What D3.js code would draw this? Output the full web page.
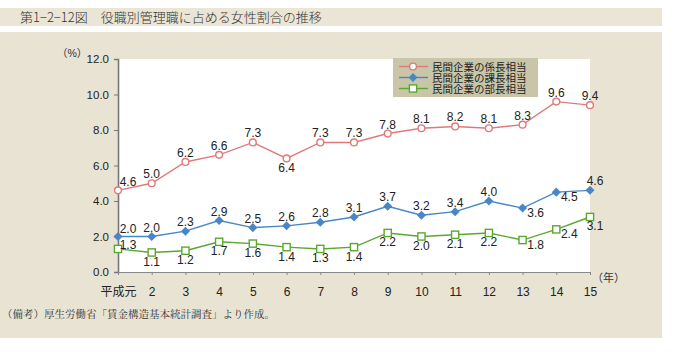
<!DOCTYPE html>
<html><head><meta charset="utf-8">
<script src="https://cdn.jsdelivr.net/npm/d3@7"></script>
<style>body{margin:0;background:#fff;} svg{display:block;}</style>
</head><body>
<script>
const categories = ["平成元","2","3","4","5","6","7","8","9","10","11","12","13","14","15"];
const kakarichou = [4.6,5.0,6.2,6.6,7.3,6.4,7.3,7.3,7.8,8.1,8.2,8.1,8.3,9.6,9.4];
const kachou = [2.0,2.0,2.3,2.9,2.5,2.6,2.8,3.1,3.7,3.2,3.4,4.0,3.6,4.5,4.6];
const buchou = [1.3,1.1,1.2,1.7,1.6,1.4,1.3,1.4,2.2,2.0,2.1,2.2,1.8,2.4,3.1];
const yTicks = [0,2,4,6,8,10,12];
const seriesNames = ["民間企業の係長相当","民間企業の課長相当","民間企業の部長相当"];
// label placement codes
const kakariPos = ["ar","a","a","a","a","b","a","a","a","a","a","a","a","a","a"];
const kachouPos = ["ar","a","a","a","a","a","a","a","a","a","a","a","br","br","aR"];
const buchouPos = ["r","b","b","b","b","b","b","b","b","b","b","b","br","br","bR"];

const W=677,H=355;
const svg=d3.select("body").append("svg").attr("width",W).attr("height",H);
const bg="#e9e3d3";
svg.append("rect").attr("x",0).attr("y",8).attr("width",662).attr("height",18).attr("fill","#ebe5d5");
svg.append("text").attr("x",20).attr("y",22).attr("font-family","Noto Sans CJK JP").attr("font-weight",300).attr("font-size",13).attr("fill","#333")
  .text("第1−2−12図　役職別管理職に占める女性割合の推移");
svg.append("rect").attr("x",0).attr("y",32).attr("width",662).attr("height",306).attr("fill",bg);

const x=d3.scalePoint().domain(categories).range([118,590]);
const y=d3.scaleLinear().domain([0,12]).range([272,59]);
svg.append("rect").attr("x",118).attr("y",59).attr("width",472).attr("height",213).attr("fill","#fff");

const num="Liberation Sans, Arial, sans-serif";
const yAx=svg.append("g").attr("transform","translate(118,0)")
  .call(d3.axisLeft(y).tickValues(yTicks).tickFormat(d3.format(".1f")).tickSize(4).tickPadding(5));
yAx.select(".domain").attr("stroke","#777").attr("stroke-width",1.6);
yAx.selectAll(".tick line").attr("stroke","#777");
yAx.selectAll("text").attr("font-family",num).attr("font-size",11.5).attr("fill","#222");

const xAx=svg.append("g").attr("transform","translate(0,272)")
  .call(d3.axisBottom(x).tickSize(3).tickPadding(12));
xAx.select(".domain").attr("stroke","#888").attr("stroke-width",1);
xAx.selectAll(".tick line").attr("stroke","#888");
xAx.selectAll("text").attr("font-family","Liberation Sans, Noto Sans CJK JP, sans-serif").attr("font-size",12).attr("fill","#222");

svg.append("text").attr("x",57).attr("y",57).attr("font-family","Liberation Sans, Noto Sans CJK JP").attr("font-size",10.5).attr("fill","#333").text("（%）");
svg.append("text").attr("x",592).attr("y",282).attr("font-family","Liberation Sans, Noto Sans CJK JP").attr("font-size",11).attr("fill","#333").text("（年）");
svg.append("text").attr("x",2).attr("y",318).attr("font-family","Noto Serif CJK JP, Noto Sans CJK JP").attr("font-size",10.5).attr("fill","#333")
  .text("（備考）厚生労働省「賃金構造基本統計調査」より作成。");

const series=[
  {vals:kakarichou,pos:kakariPos,color:"#e07a7a",mk:"circle"},
  {vals:kachou,pos:kachouPos,color:"#4a86c6",mk:"diamond"},
  {vals:buchou,pos:buchouPos,color:"#5aa830",mk:"square"}
];
const line=d3.line().x((d,i)=>x(categories[i])).y(d=>y(d));
function marker(g,type,color,cx,cy){
  if(type==="circle") g.append("circle").attr("cx",cx).attr("cy",cy).attr("r",3.4).attr("fill","#fff").attr("stroke",color).attr("stroke-width",1.4);
  else if(type==="diamond") g.append("path").attr("d",d3.symbol(d3.symbolDiamond2,52)()).attr("transform",`translate(${cx},${cy})`).attr("fill",color);
  else g.append("rect").attr("x",cx-3.6).attr("y",cy-3.6).attr("width",7.2).attr("height",7.2).attr("fill","#fff").attr("stroke",color).attr("stroke-width",1.4);
}
const offs={a:[0,-5],aR:[5,-5],b:[0,13.5],bR:[5,13],ar:[10,-4],br:[13,8.5],r:[10,0.5]};
series.forEach(s=>{
  svg.append("path").datum(s.vals).attr("d",line).attr("fill","none").attr("stroke",s.color).attr("stroke-width",1.4);
  const g=svg.append("g");
  s.vals.forEach((v,i)=>marker(g,s.mk,s.color,x(categories[i]),y(v)));
  s.vals.forEach((v,i)=>{
    const o=offs[s.pos[i]];
    svg.append("text").attr("x",x(categories[i])+o[0]).attr("y",y(v)+o[1]).attr("text-anchor","middle")
      .attr("font-family",num).attr("font-size",12).attr("fill","#222").text(v.toFixed(1));
  });
});

// legend
const lg=svg.append("g");
lg.append("rect").attr("x",393).attr("y",58).attr("width",145).attr("height",39).attr("fill","#c9c5a9");
series.forEach((s,i)=>{
  const ly=66.5+i*11;
  lg.append("line").attr("x1",399).attr("x2",428).attr("y1",ly).attr("y2",ly).attr("stroke",s.color).attr("stroke-width",1.4);
  marker(lg,s.mk,s.color,413,ly);
  lg.append("text").attr("x",432).attr("y",ly+4).attr("font-family","Liberation Sans, Noto Sans CJK JP").attr("font-size",10.5).attr("fill","#222").text(seriesNames[i]);
});
</script>
</body></html>
